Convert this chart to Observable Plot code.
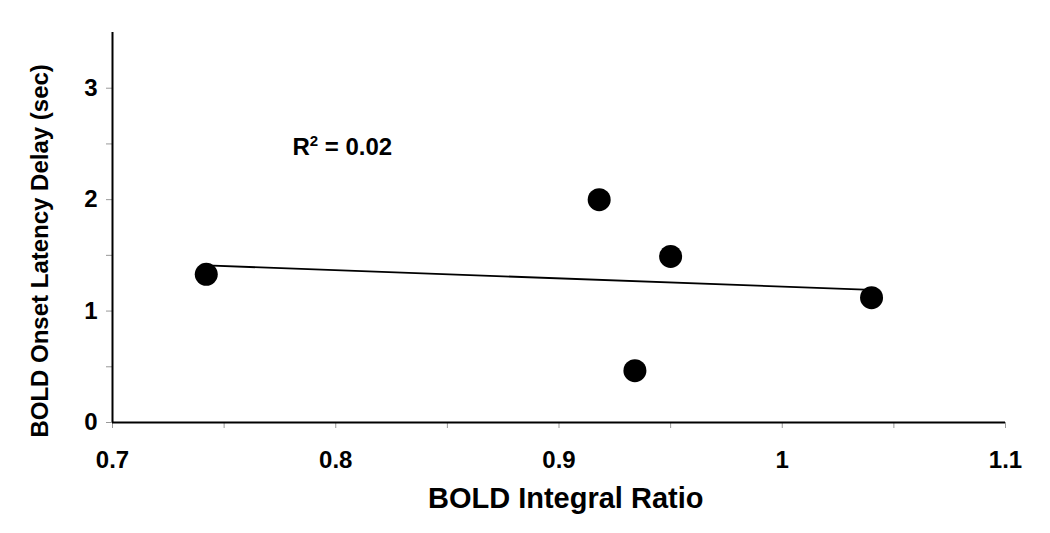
<!DOCTYPE html>
<html>
<head>
<meta charset="utf-8">
<script src="https://cdn.jsdelivr.net/npm/d3@7"></script>
<script src="https://cdn.jsdelivr.net/npm/@observablehq/plot@0.6"></script>
<style>
  html, body { margin: 0; padding: 0; background: #fff; }
  svg { font-family: "Liberation Sans", Arial, sans-serif; }
</style>
</head>
<body>
<div id="chart"></div>
<script>
// Data
const integralRatio = [0.742, 0.918, 0.950, 0.934, 1.040];
const latencyDelay  = [1.33, 2.00, 1.49, 0.465, 1.12];
const xMajorTicks = [0.7, 0.8, 0.9, 1.0, 1.1];
const xMinorTicks = [0.75, 0.85, 0.95, 1.05];
const yMajorTicks = [0, 1, 2, 3];
const yMinorTicks = [0.5, 1.5, 2.5];
const annotation = ["R2 = 0.02"];
const xTitle = "BOLD Integral Ratio";
const yTitle = "BOLD Onset Latency Delay (sec)";

const points = integralRatio.map((x, i) => ({x, y: latencyDelay[i]}));
const fmt = d => String(+d.toFixed(2));

const chart = Plot.plot({
  width: 1050,
  height: 533,
  marginLeft: 112,
  marginRight: 45,
  marginTop: 32,
  marginBottom: 111,
  x: {domain: [0.7, 1.1], axis: null},
  y: {domain: [0, 3.5], axis: null},
  style: {fontFamily: "'Liberation Sans', Arial, sans-serif", color: "#000", background: "#fff"},
  marks: [
    // tick marks
    Plot.axisX({ticks: xMajorTicks.concat(xMinorTicks), tickSize: 6, tickFormat: () => "", stroke: "#999", label: null}),
    Plot.axisY({ticks: yMajorTicks.concat(yMinorTicks), tickSize: 6, tickFormat: () => "", stroke: "#999", label: null}),
    // tick labels
    Plot.text(xMajorTicks, {x: d => d, y: 0, dy: 38, text: fmt, lineAnchor: "middle", fontSize: 24, fontWeight: "bold", fill: "#000"}),
    Plot.text(yMajorTicks, {x: 0.7, y: d => d, dx: -15, text: fmt, textAnchor: "end", lineAnchor: "middle", fontSize: 24, fontWeight: "bold", fill: "#000"}),
    // axis lines
    Plot.ruleX([0.7], {y1: 0, y2: 3.5, stroke: "#000", strokeWidth: 2}),
    Plot.ruleY([0], {x1: 0.7, x2: 1.1, stroke: "#000", strokeWidth: 2}),
    // regression line
    Plot.linearRegressionY(points, {x: "x", y: "y", ci: 0, stroke: "#000", strokeWidth: 1.8}),
    // points
    Plot.dot(points, {x: "x", y: "y", r: 11.5, fill: "#000", stroke: "none"}),
    // annotation
    Plot.text(annotation, {x: 0.7806, y: 2.467, text: d => d, textAnchor: "start", lineAnchor: "middle", fontSize: 24, fontWeight: "bold", fill: "#000", className: "r2-label"}),
    // axis titles
    Plot.text([xTitle], {x: 0.903, y: 0, dy: 76, text: d => d, lineAnchor: "middle", fontSize: 29, fontWeight: "bold", fill: "#000"}),
    Plot.text([yTitle], {x: 0.7, y: 1.54, dx: -72, rotate: -90, text: d => d, textAnchor: "middle", lineAnchor: "middle", fontSize: 24, fontWeight: "bold", fill: "#000"})
  ]
});

// render the "2" in R2 as a superscript
d3.select(chart).selectAll("g.r2-label text").each(function() {
  const t = d3.select(this);
  const s = t.text();
  t.text(null);
  t.append("tspan").text(s.slice(0, 1));
  t.append("tspan").attr("dy", -9).attr("font-size", 15).text(s.slice(1, 2));
  t.append("tspan").attr("dy", 9).text(s.slice(2));
});

document.getElementById("chart").appendChild(chart);
</script>
</body>
</html>
